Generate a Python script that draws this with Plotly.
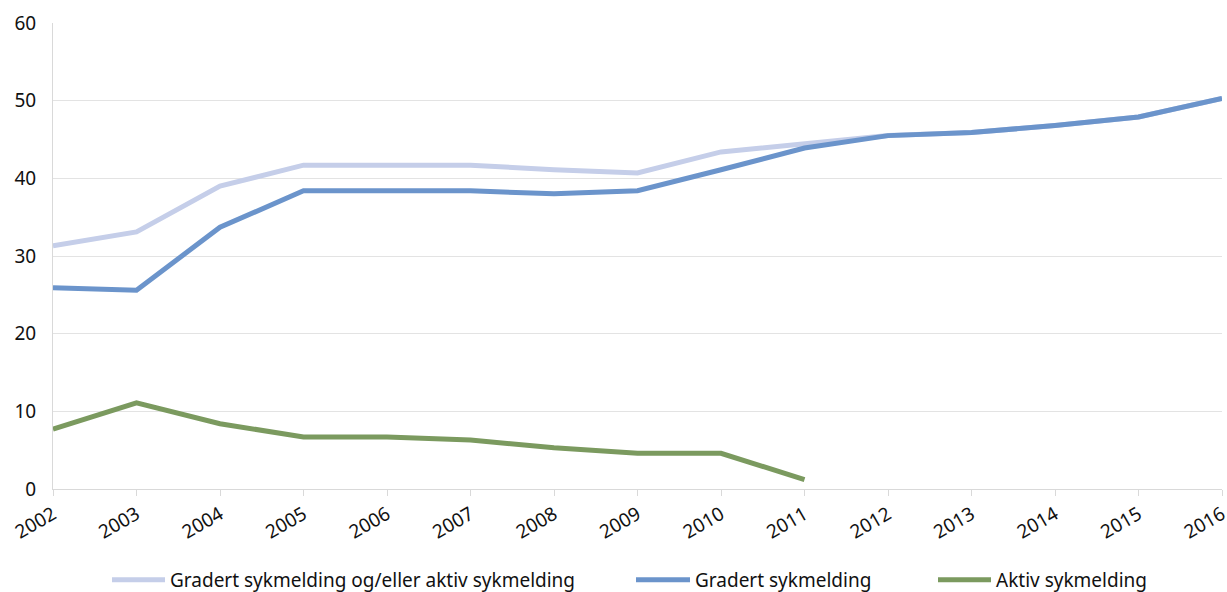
import plotly.graph_objects as go

years = [str(y) for y in range(2002, 2017)]

gradert_eller_aktiv = [31.3, 33.1, 39.0, 41.7, 41.7, 41.7, 41.1, 40.7, 43.4, 44.5,
                       45.5, 45.9, 46.8, 47.9, 50.3]
gradert = [25.9, 25.6, 33.7, 38.4, 38.4, 38.4, 38.0, 38.4, 41.1, 43.9,
           45.5, 45.9, 46.8, 47.9, 50.3]
aktiv = [7.7, 11.1, 8.4, 6.7, 6.7, 6.3, 5.3, 4.6, 4.6, 1.2]

names = ["Gradert sykmelding og/eller aktiv sykmelding",
         "Gradert sykmelding",
         "Aktiv sykmelding"]
colors = ["#c5cee9", "#6b94cb", "#7b9a5f"]

FONT = "Noto Sans"
FSIZE = 19

fig = go.Figure()
fig.add_trace(go.Scatter(x=years, y=gradert_eller_aktiv, mode="lines",
                         line=dict(color=colors[0], width=5), name=names[0]))
fig.add_trace(go.Scatter(x=years, y=gradert, mode="lines",
                         line=dict(color=colors[1], width=5), name=names[1]))
fig.add_trace(go.Scatter(x=years[:len(aktiv)], y=aktiv, mode="lines",
                         line=dict(color=colors[2], width=5), name=names[2]))

# legend drawn as line samples with text labels below the plot
W, L, R = 1227, 53, 5
plot_w = W - L - R
def px_to_paper(px):
    return (px - L) / plot_w

legend_y = -0.195
legend_items = [(112, 165), (636, 690), (938, 991)]
for (x0, x1), name, col in zip(legend_items, names, colors):
    fig.add_shape(type="line", xref="paper", yref="paper",
                  x0=px_to_paper(x0), x1=px_to_paper(x1),
                  y0=legend_y, y1=legend_y,
                  line=dict(color=col, width=5))
    fig.add_annotation(xref="paper", yref="paper", x=px_to_paper(x1 + 3),
                       y=legend_y, text=name, showarrow=False,
                       xanchor="left", yanchor="middle",
                       font=dict(family=FONT, size=FSIZE, color="#111111"))

fig.update_layout(
    width=1227, height=592,
    margin=dict(l=L, r=R, t=23, b=103),
    paper_bgcolor="white", plot_bgcolor="white",
    showlegend=False,
    font=dict(family=FONT, size=FSIZE, color="#111111"),
    xaxis=dict(
        type="category", range=[0, 14], automargin=False,
        showgrid=False, showline=True, linecolor="#d9d9d9", linewidth=1,
        ticks="outside", ticklen=6, tickcolor="#d9d9d9",
        tickangle=-30, tickfont=dict(family=FONT, size=FSIZE, color="#111111"),
    ),
    yaxis=dict(
        range=[0, 60], dtick=10, automargin=False,
        showgrid=True, gridcolor="#e3e3e3", gridwidth=1,
        showline=True, linecolor="#d9d9d9", linewidth=1,
        zeroline=False,
        ticks="outside", ticklen=12, tickcolor="white",
        tickfont=dict(family=FONT, size=FSIZE, color="#111111"),
    ),
)

fig.write_html("out.html")
